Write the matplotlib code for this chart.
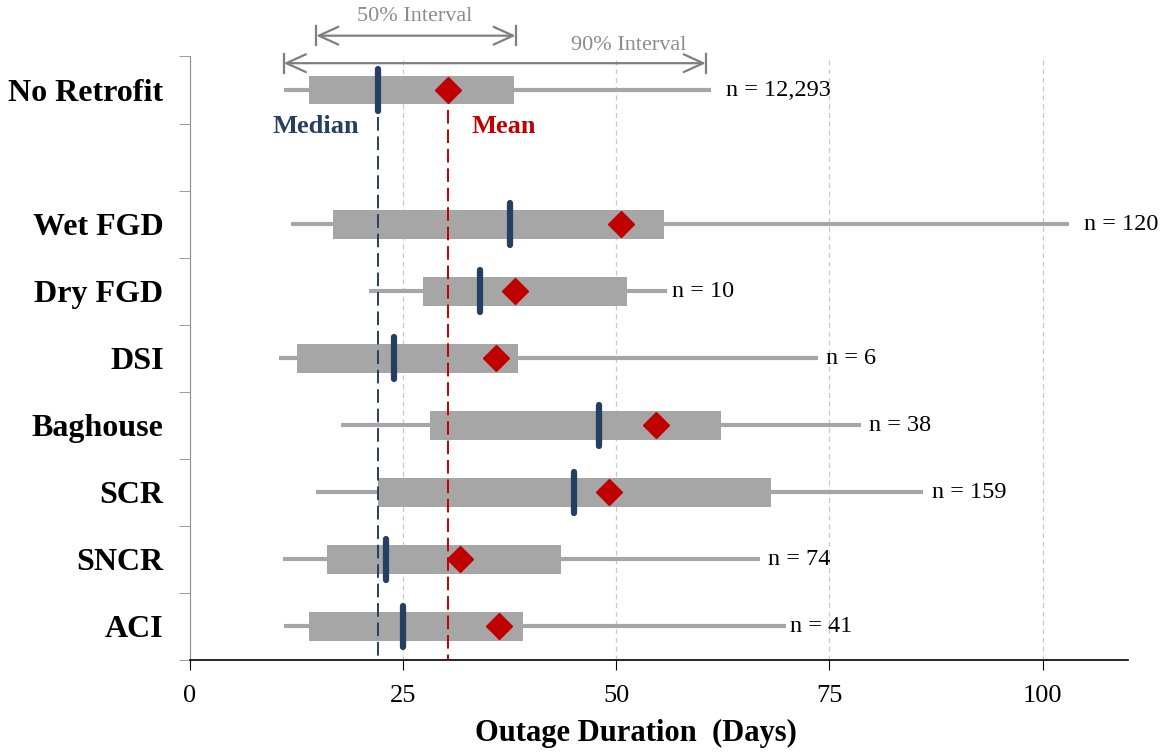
import numpy as np
import matplotlib.pyplot as plt

plt.rcParams['font.family'] = ['Liberation Serif', 'DejaVu Serif']

''' Values read off the chart (days) '''
groups = ['No Retrofit', '', 'Wet FGD', 'Dry FGD', 'DSI', 'Baghouse', 'SCR', 'SNCR', 'ACI']
p05 = [11.0, np.nan, 11.8, 21.0, 10.5, 17.7, 14.8, 10.9, 11.0]
p25 = [14.0, np.nan, 16.8, 27.3, 12.5, 28.1, 22.1, 16.1, 14.0]
p50 = [22.0, np.nan, 37.5, 34.0, 23.9, 48.0, 45.0, 23.0, 25.0]
mean = [30.3, np.nan, 50.5, 38.1, 35.9, 54.6, 49.2, 31.7, 36.3]
p75 = [38.0, np.nan, 55.6, 51.2, 38.5, 62.3, 68.1, 43.5, 39.0]
p95 = [61.1, np.nan, 103.1, 56.0, 73.6, 78.7, 86.0, 66.8, 69.9]
n_labels = ['n = 12,293', '', 'n = 120', 'n = 10', 'n = 6', 'n = 38', 'n = 159', 'n = 74', 'n = 41']
n_gap = [11, 0, 11, 3, 6, 6, 6, 6, 3]

GRAY = '#a6a6a6'
NAVY = '#243f60'
RED = '#c00000'

fig = plt.figure(figsize=(11.64, 7.52), dpi=100)
ax = fig.add_axes([0.1632, 0.1223, 0.8058, 0.8026])

pos = np.arange(len(groups))
ax.set_xlim(0, 110)
ax.set_ylim(8.5, -0.5)

# gridlines
for gx in [25, 50, 75, 100]:
    ax.axvline(gx, color='#c8c8c8', lw=0.9, ls=(0, (4, 3)), zorder=0)

for i in pos:
    if np.isnan(p50[i]):
        continue
    ax.plot([p05[i], p95[i]], [i, i], color=GRAY, lw=3, solid_capstyle='butt', zorder=1)
    ax.barh(i, p75[i] - p25[i], left=p25[i], height=0.43, color=GRAY, zorder=2)
    ax.annotate(n_labels[i], xy=(p95[i], i), xytext=(n_gap[i], 0), textcoords='offset points',
                ha='left', va='center', fontsize=17.5, color='black')

# overall median / mean reference lines (from No Retrofit)
ax.plot([p50[0], p50[0]], [0.4, 8.5], color=NAVY, lw=1.4, ls=(0, (7, 3)), zorder=3)
ax.plot([mean[0], mean[0]], [0.3, 8.5], color=RED, lw=1.4, ls=(0, (7, 3)), zorder=3)

for i in pos:
    if np.isnan(p50[i]):
        continue
    ax.plot([p50[i], p50[i]], [i - 0.31, i + 0.31], color=NAVY, lw=4.5, solid_capstyle='round', zorder=4)
    ax.plot(mean[i], i, marker='D', ms=13, color=RED, mec=RED, zorder=5)

ax.annotate('Median', xy=(p50[0], 0.55), xytext=(-13, 0), textcoords='offset points',
            ha='right', va='center', fontsize=19, fontweight='bold', color=NAVY)
ax.annotate('Mean', xy=(mean[0], 0.55), xytext=(17, 0), textcoords='offset points',
            ha='left', va='center', fontsize=19, fontweight='bold', color=RED)

# interval arrows above No Retrofit
arrows = [(p25[0] + 0.8, p75[0] + 0.2, -0.81, '50% Interval', -1.10),
          (p05[0], p95[0] - 0.6, -0.40, '90% Interval', -0.66)]
for x0, x1, ay, txt, ty in arrows:
    ax.annotate('', xy=(x1, ay), xytext=(x0, ay),
                arrowprops=dict(arrowstyle='<->, head_length=0.7, head_width=0.32',
                                color='#7f7f7f', lw=1.6, shrinkA=0, shrinkB=0,
                                mutation_scale=20),
                annotation_clip=False)
    ax.plot([x0, x0], [ay - 0.14, ay + 0.14], color='#7f7f7f', lw=1.6, clip_on=False)
    ax.plot([x1, x1], [ay - 0.14, ay + 0.14], color='#7f7f7f', lw=1.6, clip_on=False)

ax.text((p25[0] + p75[0]) / 2 + 0.4, arrows[0][4], '50% Interval', ha='center', va='center',
        fontsize=16, color='#8c8c8c')
ax.text(51.5, arrows[1][4], '90% Interval', ha='center', va='center',
        fontsize=16, color='#8c8c8c')

# axes styling
for s in ['top', 'right']:
    ax.spines[s].set_visible(False)
ax.spines['left'].set_color('#8c8c8c')
ax.spines['bottom'].set_color('black')
ax.spines['bottom'].set_linewidth(1.2)

ax.set_yticks(pos)
ax.set_yticklabels(groups, fontsize=23, fontweight='bold')
ax.tick_params(axis='y', length=0, pad=19)
ax.set_yticks(np.arange(-0.5, 8.6, 1.0), minor=True)
ax.tick_params(axis='y', which='minor', length=8, color='#8c8c8c', direction='out')

ax.set_xticks([0, 25, 50, 75, 100])
ax.tick_params(axis='x', length=7, pad=11, labelsize=19, direction='out')
ax.set_xlabel('Outage Duration  (Days)', fontsize=22, fontweight='bold', labelpad=6)
ax.xaxis.set_label_coords(0.475, -0.098)

fig.savefig('out.png', dpi=100)
